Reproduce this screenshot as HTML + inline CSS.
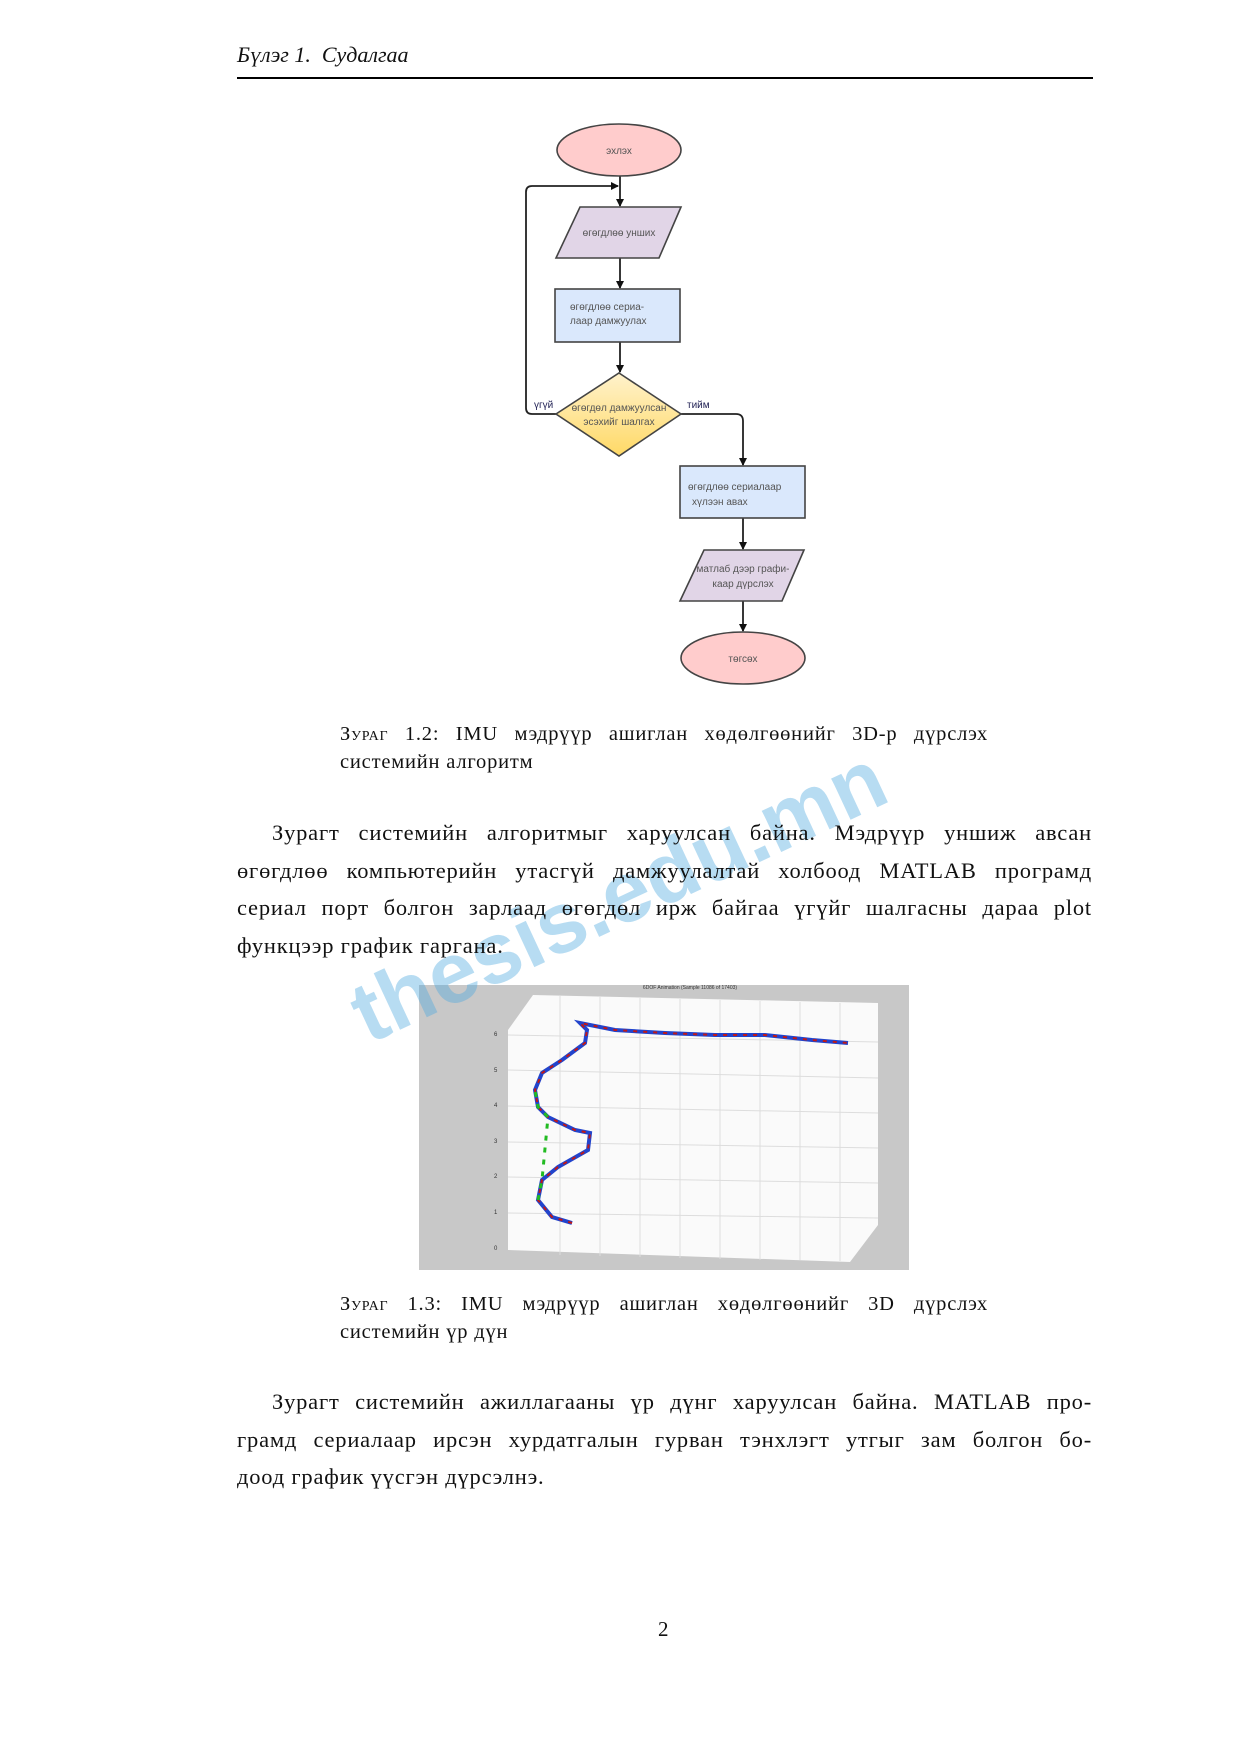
<!DOCTYPE html>
<html><head><meta charset="utf-8"><style>
body{margin:0;width:1240px;height:1754px;background:#fff;position:relative;overflow:hidden;font-family:"Liberation Serif","DejaVu Serif",serif;color:#111}
.a{position:absolute}
.p{position:absolute;left:237px;width:855px;font-size:22.5px;line-height:37.5px;letter-spacing:0.8px}
.p div{text-align:justify;text-align-last:justify;white-space:nowrap}
.p div.l{text-align-last:left}
.cap{position:absolute;left:340px;width:648px;font-size:20.5px;line-height:28px;letter-spacing:0.8px}
.cap div{text-align:justify;text-align-last:justify;white-space:nowrap}
.cap div.l{text-align-last:left}
.sc{font-variant:small-caps}
</style></head><body>
<div class="a" style="left:237px;top:42px;font-size:22px;font-style:italic">Бүлэг 1.&nbsp; Судалгаа</div>
<div class="a" style="left:237px;top:77px;width:856px;height:1.5px;background:#000"></div>

<svg class="a" style="left:0;top:0" width="1240" height="1754" font-family="Liberation Sans, sans-serif">
<defs>
<linearGradient id="g" x1="0" y1="0" x2="0" y2="1"><stop offset="0" stop-color="#fff2cc"/><stop offset="1" stop-color="#ffd966"/></linearGradient>
<marker id="ar" markerWidth="8" markerHeight="8" refX="7" refY="4" orient="auto" markerUnits="userSpaceOnUse"><path d="M0,0 L8,4 L0,8z" fill="#111"/></marker>
</defs>
<g stroke="#222" stroke-width="1.8" fill="none">
<line x1="620" y1="176" x2="620" y2="206" marker-end="url(#ar)"/>
<path d="M556,414 H532 Q526,414 526,408 V192 Q526,186 532,186 H618" marker-end="url(#ar)"/>
<line x1="620" y1="258" x2="620" y2="288" marker-end="url(#ar)"/>
<line x1="620" y1="342" x2="620" y2="372" marker-end="url(#ar)"/>
<path d="M681,414 H736 Q743,414 743,421 V465" marker-end="url(#ar)"/>
<line x1="743" y1="518" x2="743" y2="549" marker-end="url(#ar)"/>
<line x1="743" y1="601" x2="743" y2="631" marker-end="url(#ar)"/>
</g>
<g stroke="#444" stroke-width="1.6">
<ellipse cx="619" cy="150" rx="62" ry="26" fill="#ffcccc"/>
<polygon points="580,207 681,207 659,258 556,258" fill="#e1d5e7"/>
<rect x="555" y="289" width="125" height="53" fill="#dae8fc"/>
<polygon points="619,373 681,414 619,456 556,414" fill="url(#g)"/>
<rect x="680" y="466" width="125" height="52" fill="#dae8fc"/>
<polygon points="704,550 804,550 782,601 680,601" fill="#e1d5e7"/>
<ellipse cx="743" cy="658" rx="62" ry="26" fill="#ffcccc"/>
</g>
<g font-size="10" fill="#555">
<text x="619" y="154" text-anchor="middle">эхлэх</text>
<text x="619" y="236" text-anchor="middle">өгөгдлөө унших</text>
<text x="570" y="310">өгөгдлөө сериа-</text>
<text x="570" y="324">лаар дамжуулах</text>
<text x="619" y="411" text-anchor="middle">өгөгдөл дамжуулсан</text>
<text x="619" y="425" text-anchor="middle">эсэхийг шалгах</text>
<text x="534" y="408" fill="#225">үгүй</text>
<text x="687" y="408" fill="#225">тийм</text>
<text x="688" y="490">өгөгдлөө сериалаар</text>
<text x="692" y="505">хүлээн авах</text>
<text x="743" y="572" text-anchor="middle">матлаб дээр графи-</text>
<text x="743" y="587" text-anchor="middle">каар дүрслэх</text>
<text x="743" y="662" text-anchor="middle">төгсөх</text>
</g>

<rect x="419" y="985" width="490" height="285" fill="#c8c8c8"/>
<polygon points="508,1030 533,995 878,1003 878,1225 850,1262 508,1250" fill="#fafafa"/>
<g stroke="#ddd" stroke-width="1">
<line x1="560" y1="996" x2="560" y2="1255"/><line x1="600" y1="997" x2="600" y2="1256"/><line x1="640" y1="998" x2="640" y2="1257"/><line x1="680" y1="999" x2="680" y2="1258"/><line x1="720" y1="1000" x2="720" y2="1259"/><line x1="760" y1="1001" x2="760" y2="1260"/><line x1="800" y1="1002" x2="800" y2="1260"/><line x1="840" y1="1003" x2="840" y2="1261"/>
<line x1="508" y1="1035" x2="878" y2="1042"/><line x1="508" y1="1070" x2="878" y2="1078"/><line x1="508" y1="1106" x2="878" y2="1113"/><line x1="508" y1="1142" x2="878" y2="1148"/><line x1="508" y1="1177" x2="878" y2="1183"/><line x1="508" y1="1213" x2="878" y2="1218"/>
</g>
<polyline points="572,1223 552,1217 538,1200 542,1180 558,1167 588,1150 590,1133 575,1130 548,1117 538,1107 535,1090 542,1073 562,1060 585,1043 587,1030 580,1023 615,1030 665,1033 715,1035 765,1035 812,1040 848,1043" fill="none" stroke="#2244cc" stroke-width="4"/>
<polyline points="572,1223 552,1217 538,1200 542,1180 558,1167 588,1150 590,1133 575,1130 548,1117 538,1107 535,1090 542,1073 562,1060 585,1043 587,1030 580,1023 615,1030 665,1033 715,1035 765,1035 812,1040 848,1043" fill="none" stroke="#c01818" stroke-width="2" stroke-dasharray="4 6"/>
<polyline points="538,1200 542,1180 548,1117 538,1107 535,1090" fill="none" stroke="#22bb22" stroke-width="3" stroke-dasharray="5 7"/>
<text x="690" y="989" font-size="5" fill="#333" text-anchor="middle">6DOF Animation (Sample 11086 of 17403)</text>
<g font-size="6" fill="#333"><text x="494" y="1036">6</text><text x="494" y="1072">5</text><text x="494" y="1107">4</text><text x="494" y="1143">3</text><text x="494" y="1178">2</text><text x="494" y="1214">1</text><text x="494" y="1250">0</text></g>

<text x="618" y="925" font-size="86" font-weight="bold" fill="#4aa8df" fill-opacity="0.4" text-anchor="middle" transform="rotate(-25 618 895)" font-family="Liberation Sans, sans-serif">thesis.edu.mn</text>
</svg>

<div class="cap" style="top:720px"><div><span class="sc">Зураг</span> 1.2: IMU мэдрүүр ашиглан хөдөлгөөнийг 3D-р дүрслэх</div><div class="l">системийн алгоритм</div></div>
<div class="p" style="top:814px">
<div><span style="padding-left:35px"></span>Зурагт системийн алгоритмыг харуулсан байна. Мэдрүүр уншиж авсан</div>
<div>өгөгдлөө компьютерийн утасгүй дамжуулалтай холбоод MATLAB програмд</div>
<div>сериал порт болгон зарлаад өгөгдөл ирж байгаа үгүйг шалгасны дараа plot</div>
<div class="l">функцээр график гаргана.</div>
</div>
<div class="cap" style="top:1290px"><div><span class="sc">Зураг</span> 1.3: IMU мэдрүүр ашиглан хөдөлгөөнийг 3D дүрслэх</div><div class="l">системийн үр дүн</div></div>
<div class="p" style="top:1383px">
<div><span style="padding-left:35px"></span>Зурагт системийн ажиллагааны үр дүнг харуулсан байна. MATLAB про-</div>
<div>грамд сериалаар ирсэн хурдатгалын гурван тэнхлэгт утгыг зам болгон бо-</div>
<div class="l">доод график үүсгэн дүрсэлнэ.</div>
</div>
<div class="a" style="left:658px;top:1617px;font-size:21px">2</div>
</body></html>
